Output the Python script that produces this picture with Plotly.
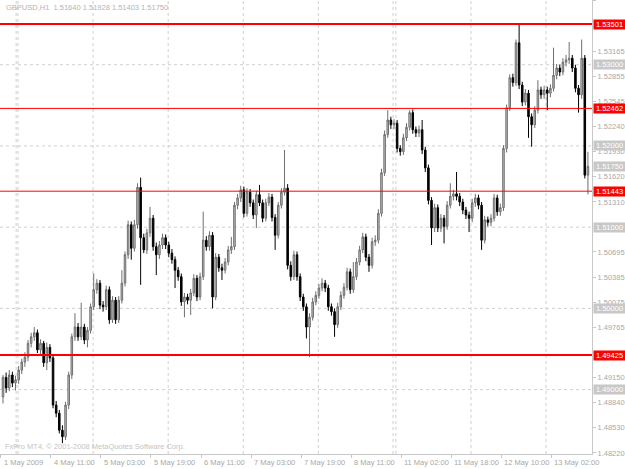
import plotly.graph_objects as go

# ---------------- data (GBPUSD H1) ----------------
first_open = 1.4891
close = [
    1.4915, 1.4902, 1.4918, 1.4908, 1.4912, 1.4924, 1.4934, 1.4940, 1.4957, 1.4965,
    1.4970, 1.4949, 1.4957, 1.4933, 1.4952, 1.4939, 1.4881, 1.4871, 1.4850, 1.4842,
    1.4881, 1.4918, 1.4965, 1.4977, 1.4965, 1.4977, 1.4961, 1.4973, 1.5002, 1.5023,
    1.5031, 1.5004, 1.5002, 1.5023, 1.4986, 1.5010, 1.4986, 1.5010, 1.5031, 1.5066,
    1.5103, 1.5074, 1.5103, 1.5149, 1.5087, 1.5072, 1.5093, 1.5111, 1.5076, 1.5066,
    1.5078, 1.5087, 1.5078, 1.5068, 1.5060, 1.5047, 1.5039, 1.5008, 1.5014, 1.5010,
    1.5019, 1.5037, 1.5014, 1.5039, 1.5084, 1.5076, 1.5090, 1.5014, 1.5063, 1.5050,
    1.5047, 1.5057, 1.5072, 1.5076, 1.5127, 1.5136, 1.5146, 1.5117, 1.5143, 1.5130,
    1.5115, 1.5140, 1.5130, 1.5111, 1.5130, 1.5137, 1.5112, 1.5090, 1.5127, 1.5143,
    1.5148, 1.5053, 1.5039, 1.5066, 1.5039, 1.5014, 1.5002, 1.4977, 1.4989, 1.5008,
    1.5016, 1.5025, 1.5031, 1.5025, 1.5002, 1.4996, 1.4980, 1.5002, 1.5016, 1.5026,
    1.5045, 1.5023, 1.5039, 1.5057, 1.5072, 1.5088, 1.5063, 1.5053, 1.5082, 1.5084,
    1.5117, 1.5167, 1.5214, 1.5232, 1.5226, 1.5228, 1.5197, 1.5193, 1.5210, 1.5223,
    1.5241, 1.5220, 1.5216, 1.5220, 1.5195, 1.5173, 1.5133, 1.5099, 1.5124, 1.5099,
    1.5111, 1.5101, 1.5127, 1.5138, 1.5141, 1.5138, 1.5131, 1.5121, 1.5115, 1.5111,
    1.5130, 1.5136, 1.5127, 1.5084, 1.5109, 1.5106, 1.5111, 1.5136, 1.5119, 1.5124,
    1.5197, 1.5247, 1.5284, 1.5278, 1.5327, 1.5275, 1.5254, 1.5265, 1.5236, 1.5226,
    1.5244, 1.5269, 1.5263, 1.5269, 1.5265, 1.5271, 1.5287, 1.5296, 1.5291, 1.5303,
    1.5306, 1.5308, 1.5296, 1.5271, 1.5263, 1.5308, 1.5164, 1.51750,
]
high = [
    1.4918, 1.4921, 1.4924, 1.4922, 1.4917, 1.4929, 1.4938, 1.4946, 1.4961, 1.4970,
    1.4977, 1.4974, 1.4962, 1.4960, 1.4958, 1.4956, 1.4943, 1.4886, 1.4875, 1.4856,
    1.4885, 1.4922, 1.4969, 1.4994, 1.4982, 1.5007, 1.4981, 1.4977, 1.5006, 1.5043,
    1.5036, 1.5035, 1.5009, 1.5028, 1.5027, 1.5015, 1.5014, 1.5015, 1.5047, 1.5070,
    1.5108, 1.5107, 1.5109, 1.5154, 1.5161, 1.5092, 1.5098, 1.5125, 1.5115, 1.5081,
    1.5083, 1.5092, 1.5091, 1.5082, 1.5073, 1.5064, 1.5051, 1.5043, 1.5019, 1.5018,
    1.5024, 1.5042, 1.5041, 1.5044, 1.5119, 1.5089, 1.5095, 1.5094, 1.5068, 1.5067,
    1.5055, 1.5062, 1.5077, 1.5088, 1.5131, 1.5141, 1.5151, 1.5150, 1.5148, 1.5147,
    1.5134, 1.5145, 1.5152, 1.5134, 1.5135, 1.5142, 1.5141, 1.5116, 1.5131, 1.5148,
    1.5195, 1.5153, 1.5058, 1.5071, 1.5070, 1.5043, 1.5018, 1.5006, 1.4994, 1.5013,
    1.5021, 1.5030, 1.5037, 1.5035, 1.5029, 1.5006, 1.5000, 1.5007, 1.5021, 1.5031,
    1.5050, 1.5049, 1.5057, 1.5062, 1.5077, 1.5093, 1.5092, 1.5067, 1.5087, 1.5090,
    1.5122, 1.5172, 1.5219, 1.5244, 1.5236, 1.5233, 1.5232, 1.5201, 1.5215, 1.5228,
    1.5244, 1.5245, 1.5224, 1.5225, 1.5232, 1.5199, 1.5177, 1.5137, 1.5129, 1.5128,
    1.5116, 1.5115, 1.5132, 1.5154, 1.5146, 1.5168, 1.5142, 1.5135, 1.5125, 1.5119,
    1.5135, 1.5141, 1.5140, 1.5131, 1.5114, 1.5113, 1.5116, 1.5141, 1.5140, 1.5129,
    1.5201, 1.5251, 1.5288, 1.5289, 1.5331, 1.5351, 1.5279, 1.5270, 1.5269, 1.5240,
    1.5249, 1.5281, 1.5273, 1.5274, 1.5273, 1.5276, 1.5321, 1.5301, 1.5300, 1.5308,
    1.5312, 1.5328, 1.5312, 1.5300, 1.5275, 1.5331, 1.5312, 1.51928,
]
low = [
    1.4883, 1.4896, 1.4898, 1.4903, 1.4899, 1.4907, 1.4919, 1.4928, 1.4935, 1.4952,
    1.4960, 1.4945, 1.4944, 1.4928, 1.4924, 1.4934, 1.4877, 1.4866, 1.4846, 1.4834,
    1.4838, 1.4876, 1.4913, 1.4960, 1.4960, 1.4961, 1.4956, 1.4952, 1.4969, 1.4998,
    1.5018, 1.4999, 1.4996, 1.4998, 1.4981, 1.4982, 1.4981, 1.4982, 1.5006, 1.5027,
    1.5061, 1.5060, 1.5070, 1.5098, 1.5029, 1.5068, 1.5067, 1.5088, 1.5071, 1.5041,
    1.5061, 1.5073, 1.5073, 1.5063, 1.5055, 1.5025, 1.5034, 1.5003, 1.4989, 1.5005,
    1.4992, 1.5015, 1.5009, 1.5010, 1.5035, 1.5071, 1.5071, 1.5000, 1.5010, 1.5045,
    1.5035, 1.5043, 1.5053, 1.5067, 1.5072, 1.5122, 1.5131, 1.5112, 1.5113, 1.5125,
    1.5110, 1.5099, 1.5126, 1.5106, 1.5107, 1.5126, 1.5107, 1.5072, 1.5086, 1.5123,
    1.5139, 1.5048, 1.5034, 1.5035, 1.5034, 1.5009, 1.4997, 1.4963, 1.4940, 1.4985,
    1.5004, 1.5012, 1.5021, 1.5020, 1.4997, 1.4991, 1.4965, 1.4976, 1.4998, 1.5012,
    1.5022, 1.5018, 1.5019, 1.5035, 1.5053, 1.5068, 1.5058, 1.5045, 1.5049, 1.5077,
    1.5080, 1.5113, 1.5163, 1.5210, 1.5221, 1.5221, 1.5192, 1.5188, 1.5189, 1.5206,
    1.5219, 1.5215, 1.5211, 1.5211, 1.5190, 1.5168, 1.5128, 1.5078, 1.5094, 1.5094,
    1.5094, 1.5080, 1.5097, 1.5123, 1.5133, 1.5133, 1.5126, 1.5116, 1.5110, 1.5094,
    1.5106, 1.5125, 1.5122, 1.5072, 1.5080, 1.5101, 1.5101, 1.5107, 1.5114, 1.5114,
    1.5120, 1.5192, 1.5243, 1.5273, 1.5274, 1.5270, 1.5249, 1.5250, 1.5210, 1.5199,
    1.5222, 1.5240, 1.5258, 1.5258, 1.5244, 1.5260, 1.5267, 1.5282, 1.5286, 1.5287,
    1.5298, 1.5301, 1.5291, 1.5266, 1.5241, 1.5258, 1.5160, 1.51403,
]
open_ = [first_open] + close[:-1]
bar_index = list(range(len(close)))

# horizontal levels (price, line width)
level_prices = [1.53501, 1.52462, 1.51443, 1.49425]
level_widths = [2, 1, 1, 2]
round_levels = [1.49, 1.50, 1.51, 1.52, 1.53]
current_price = 1.51750

# day separators (bar positions)
day_lines = [4.2, 4.8, 28.8, 52.8, 76.8, 100.8, 124.7, 125.6, 149.6, 173.6]

time_labels = ["1 May 2009", "4 May 11:00", "5 May 03:00", "5 May 19:00", "6 May 11:00",
               "7 May 03:00", "7 May 19:00", "8 May 11:00", "11 May 02:00", "11 May 18:00",
               "12 May 10:00", "13 May 02:00"]
time_label_pos = [0, 16, 32, 48, 64, 80, 96, 112, 128, 144, 160, 176]

# price scale labels that are visible (others are hidden under the level boxes)
price_ticks = [1.48220, 1.48530, 1.48840, 1.49150, 1.49765, 1.50075, 1.50385,
               1.50695, 1.51310, 1.51620, 1.51930, 1.52240, 1.52545, 1.52855,
               1.53165, 1.53786]

title_text = "GBPUSD,H1  1.51640 1.51928 1.51403 1.51750"
copyright_text = "FxPro MT4, \u00a9 2001-2008 MetaQuotes Software Corp."

# ---------------- figure ----------------
FONT = "Liberation Sans"
GREY_TXT = "#a8a8a8"
RED = "#ff0000"

fig = go.Figure()
fig.add_trace(go.Candlestick(
    x=bar_index, open=open_, high=high, low=low, close=close,
    increasing=dict(line=dict(color="#6e6e6e", width=1), fillcolor="#c4c4c4"),
    decreasing=dict(line=dict(color="#000000", width=1), fillcolor="#000000"),
    whiskerwidth=0, hoverinfo="skip", showlegend=False,
))

shapes = []
for lv in round_levels:
    shapes.append(dict(type="line", xref="paper", x0=0, x1=1, yref="y", y0=lv, y1=lv,
                       line=dict(color="#cfcfcf", width=1, dash="3px,3px"), layer="below"))
for d in day_lines:
    shapes.append(dict(type="line", xref="x", x0=d, x1=d, yref="paper", y0=0, y1=1,
                       line=dict(color="#cfcfcf", width=1, dash="3px,3px"), layer="below"))
for lv, w in zip(level_prices, level_widths):
    shapes.append(dict(type="line", xref="paper", x0=0, x1=1, yref="y", y0=lv, y1=lv,
                       line=dict(color=RED, width=w), layer="above"))

annotations = []
annotations.append(dict(xref="paper", yref="paper", x=0, y=1, xanchor="left", yanchor="top",
                        xshift=4, yshift=-1, showarrow=False, text=title_text,
                        font=dict(family=FONT, size=7.5, color="#b4b4b4")))
annotations.append(dict(xref="paper", yref="paper", x=0, y=0, xanchor="left", yanchor="bottom",
                        xshift=3, yshift=1, showarrow=False, text=copyright_text,
                        font=dict(family=FONT, size=7.5, color="#c4c4c4")))
for lab, pos in zip(time_labels, time_label_pos):
    annotations.append(dict(xref="x", yref="paper", x=pos - 0.4, y=0, xanchor="left",
                            yanchor="top", yshift=-2, showarrow=False, text=lab,
                            font=dict(family=FONT, size=7.5, color=GREY_TXT)))


def price_box(p, bg):
    return dict(xref="paper", yref="y", x=1, y=p, xanchor="left", yanchor="middle",
                xshift=1, showarrow=False, text=f"{p:.5f}", bgcolor=bg, width=31,
                height=9, borderpad=0, align="center",
                font=dict(family=FONT, size=7.5, color="#ffffff"))


for lv in round_levels:
    annotations.append(price_box(lv, "#c8c8c8"))
annotations.append(price_box(current_price, "#c8c8c8"))
for lv in level_prices:
    annotations.append(price_box(lv, RED))

fig.update_layout(
    width=625, height=469,
    margin=dict(l=0, r=33, t=0, b=15),
    paper_bgcolor="white", plot_bgcolor="white",
    shapes=shapes, annotations=annotations,
    xaxis=dict(range=[-0.96, 188.3], rangeslider=dict(visible=False), showgrid=False,
               zeroline=False, showline=True, linecolor="#c8c8c8", linewidth=1,
               tickvals=[p - 0.7 for p in time_label_pos], ticks="outside", ticklen=3,
               tickcolor="#c8c8c8", showticklabels=False, fixedrange=True),
    yaxis=dict(side="right", range=[1.48207, 1.53797], showgrid=False, zeroline=False,
               showline=True, linecolor="#c8c8c8", linewidth=1,
               tickvals=price_ticks, ticktext=[f"{t:.5f}" for t in price_ticks],
               ticks="outside", ticklen=3, tickcolor="#c8c8c8",
               tickfont=dict(family=FONT, size=7.5, color=GREY_TXT), fixedrange=True),
    showlegend=False,
)

fig.write_html("out.html")
